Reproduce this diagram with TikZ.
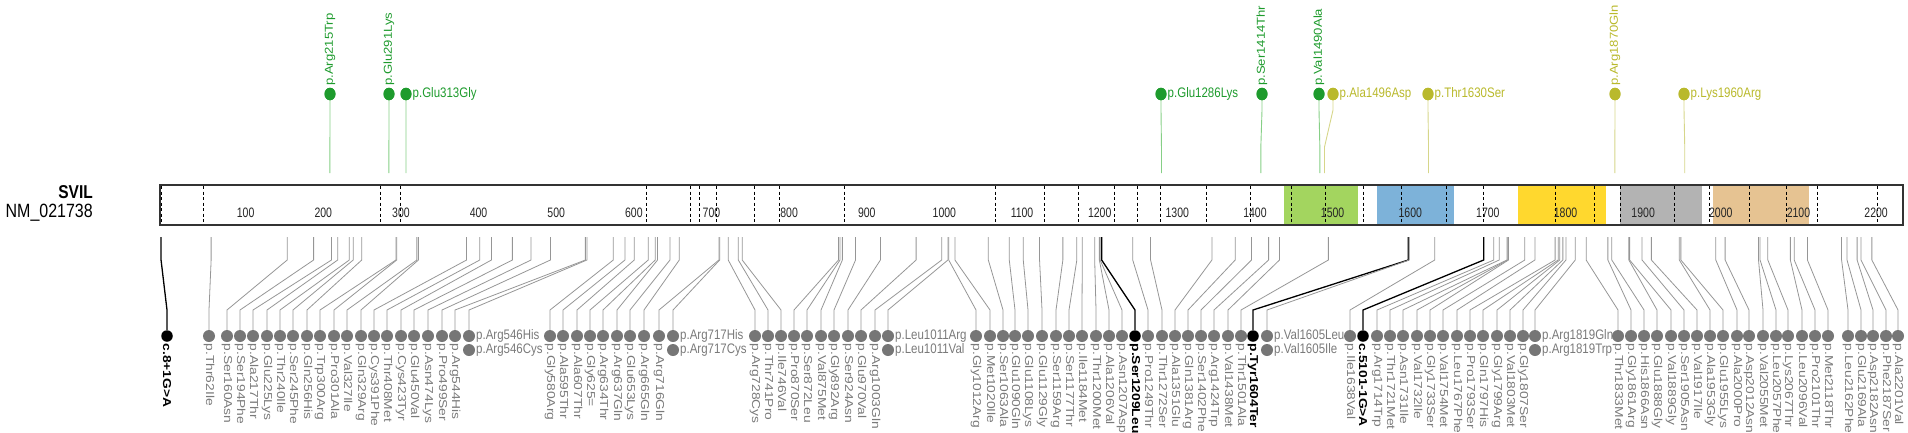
\documentclass[tikz,border=0pt]{standalone}
\usepackage{fontspec}
\setmainfont{Liberation Sans}
\definecolor{dotgray}{HTML}{767676}
\definecolor{labgray}{HTML}{7A7A7A}
\definecolor{linegray}{HTML}{969696}
\definecolor{grn}{HTML}{1E9B2D}
\definecolor{grnline}{HTML}{86CF86}
\definecolor{olv}{HTML}{B9B92C}
\definecolor{olvline}{HTML}{D6D68A}
\definecolor{dgreen}{HTML}{A3D55F}
\definecolor{dblue}{HTML}{7DB2D9}
\definecolor{dyellow}{HTML}{FFD82E}
\definecolor{dgrey}{HTML}{B3B3B3}
\definecolor{dtan}{HTML}{E6C392}
\newcommand\vtext[1]{\scalebox{1.2}[1]{#1}}
\newcommand\ttext[1]{\scalebox{1.14}[1]{#1}}
\newcommand\htext[1]{\scalebox{1}[1.2]{#1}}
\tikzset{
  dotg/.style={circle, fill=dotgray, minimum size=12pt, inner sep=0pt},
  dotk/.style={circle, fill=black, minimum size=11.5pt, inner sep=0pt},
  lineg/.style={draw=linegray, line width=0.8pt},
  linek/.style={draw=black, line width=1.3pt},
  labg/.style={font=\fontsize{11.5}{11.5}\selectfont, text=labgray, rotate=-90, anchor=west, inner sep=0pt},
  labk/.style={font=\fontsize{11.5}{11.5}\selectfont\bfseries, text=black, rotate=-90, anchor=west, inner sep=0pt},
  labh/.style={font=\fontsize{11.5}{11.5}\selectfont, text=labgray, anchor=west, inner sep=0pt},
  topv/.style={font=\fontsize{11.5}{11.5}\selectfont, rotate=90, anchor=west, inner sep=0pt},
  toph/.style={font=\fontsize{11.5}{11.5}\selectfont, anchor=west, inner sep=0pt},
  topdot/.style={ellipse, minimum width=11pt, minimum height=12.5pt, inner sep=0pt},
  exon/.style={draw=black, line width=0.9pt, dash pattern=on 3pt off 2.5pt},
  tick/.style={font=\fontsize{10.5}{10.5}\selectfont, text=black!85, inner sep=0pt},
}
\usetikzlibrary{shapes.geometric}
\begin{document}
\begin{tikzpicture}[x=1pt, y=-1pt]
\useasboundingbox (0,0) rectangle (1908,432);
% gene name
\node[anchor=east, font=\fontsize{15.5}{15.5}\selectfont\bfseries, inner sep=0pt] (gname) at (93,192) {\htext{SVIL}};
\node[anchor=east, font=\fontsize{16}{16}\selectfont, inner sep=0pt] (tname) at (93,213) {\htext{NM\_021738}};
% domains
\fill[dgreen]  (1284,186) rectangle (1358,224);
\fill[dblue]   (1377,186) rectangle (1454,224);
\fill[dyellow] (1518,186) rectangle (1606,224);
\fill[dgrey]   (1620,186) rectangle (1702,224);
\fill[dtan]    (1713,186) rectangle (1809,224);
% exon boundaries
\foreach \e in {161,203,380,400,646,690,699,716,754,779,844,995,1044,1078,1114,1137,1160,1206,1250,1291,1325,1363,1401,1446,1483,1555,1594,1620,1674,1709,1749,1786,1817,1877}
  \draw[exon] (\e,186) -- (\e,224);
% bar
\draw[black!80, line width=1.4pt] (160,185) rectangle (1903,225);
% tick labels
\foreach \n in {100,200,...,2200}
  \node[tick] (tk\n) at ({168+0.7764*\n},213) {\scalebox{1}[1.3]{\n}};
% top variants
\foreach \lab/\aa/\dx/\c/\o [count=\i] in {
  p.Arg215Trp/215/330/grn/v, p.Glu291Lys/291/389/grn/v, p.Glu313Gly/313/406/grn/h,
  p.Glu1286Lys/1286/1161/grn/h, p.Ser1414Thr/1414/1262/grn/v, p.Val1490Ala/1490/1319/grn/v,
  p.Ala1496Asp/1496/1333/olv/h, p.Thr1630Ser/1630/1428/olv/h, p.Arg1870Gln/1870/1615/olv/v,
  p.Lys1960Arg/1960/1684/olv/h}{
  \coordinate (ts\i) at ({163+0.7764*\aa},173);
  \coordinate (ta\i) at ({163+0.7764*\aa},147);
  \coordinate (tb\i) at (\dx,110);
  \node[topdot, fill=\c] (td\i) at (\dx,94) {};
  \draw[draw=\c line, line width=0.9pt] (ts\i) -- (ta\i) -- (tb\i) -- (td\i.center);
  \node[topdot, fill=\c] at (\dx,94) {};
  \if\o v
    \node[topv, text=\c] (tl\i) at (\dx,86) {\ttext{\lab}};
  \else
    \node[toph, text=\c] (tl\i) at (\dx+6.5,94) {\htext{\lab}};
  \fi
}
% bottom variants
\foreach \lab/\aa/\dx/\ty [count=\i] in {
  c.8+1G>A/-2.5/167/k, p.Thr62Ile/62/209/g, p.Ser160Asn/160/227/g, p.Ser194Phe/194/240/g,
  p.Ala217Thr/217/253/g, p.Glu225Lys/225/267/g, p.Thr240Ile/240/280/g, p.Ser245Phe/245/293/g,
  p.Gln256His/256/307/g, p.Trp300Arg/300/320/g, p.Pro301Ala/301/334/g, p.Val327Ile/327/347/g,
  p.Gln329Arg/329/361/g, p.Cys391Phe/391/374/g, p.Thr408Met/408/387/g, p.Cys423Tyr/423/401/g,
  p.Glu450Val/450/414/g, p.Asn474Lys/474/428/g, p.Pro499Ser/499/442/g, p.Arg544His/544/455/g,
  p.Gly580Arg/580/550/g, p.Ala595Thr/595/563/g, p.Ala607Thr/607/577/g, p.Gly625=/625/590/g,
  p.Arg634Thr/634/603/g, p.Arg637Gln/637/617/g, p.Glu653Lys/653/630/g, p.Arg665Gln/665/644/g,
  p.Arg716Gln/716/659/g, p.Arg728Cys/728/755/g, p.Thr741Pro/741/768/g, p.Ile746Val/746/781/g,
  p.Pro870Ser/870/794/g, p.Ser872Leu/872/807/g, p.Val875Met/875/821/g, p.Gly892Arg/892/834/g,
  p.Ser924Asn/924/848/g, p.Glu970Val/970/861/g, p.Arg1003Gln/1003/875/g,
  p.Gly1012Arg/1012/976/g, p.Met1020Ile/1020/990/g, p.Ser1063Ala/1063/1003/g,
  p.Glu1090Gln/1090/1015/g, p.Glu1108Lys/1108/1028/g, p.Glu1129Gly/1129/1042/g,
  p.Ser1159Arg/1159/1056/g, p.Ser1177Thr/1177/1069/g, p.Ile1184Met/1184/1082/g,
  p.Thr1200Met/1200/1096/g, p.Ala1206Val/1206/1109/g, p.Asn1207Asp/1207/1122/g,
  p.Ser1209Leu/1209/1135/k, p.Pro1249Thr/1249/1148/g, p.Thr1272Ser/1272/1162/g,
  p.Ala1351Glu/1351/1175/g, p.Gln1381Arg/1381/1188/g, p.Ser1402Phe/1402/1201/g,
  p.Arg1424Trp/1424/1214/g, p.Val1438Met/1438/1228/g, p.Thr1501Ala/1501/1241/g,
  p.Tyr1604Ter/1604/1253/k, p.Ile1638Val/1638/1350/g, c.5101-1G>A/1701/1363/k,
  p.Arg1714Trp/1714/1377/g, p.Thr1721Met/1721/1390/g, p.Asn1731Ile/1731/1403/g,
  p.Val1732Ile/1732/1417/g, p.Gly1733Ser/1733/1430/g, p.Val1754Met/1754/1443/g,
  p.Leu1767Phe/1767/1457/g, p.Pro1793Ser/1793/1470/g, p.Gln1797His/1797/1483/g,
  p.Gly1799Arg/1799/1497/g, p.Val1803Met/1803/1510/g, p.Gly1807Ser/1807/1523/g,
  p.Thr1833Met/1833/1618/g, p.Gly1861Arg/1861/1631/g, p.His1866Asn/1866/1644/g,
  p.Glu1888Gly/1888/1657/g, p.Val1889Gly/1889/1671/g, p.Ser1905Asn/1905/1684/g,
  p.Val1917Ile/1917/1697/g, p.Ala1953Gly/1953/1710/g, p.Glu1955Lys/1955/1723/g,
  p.Ala2000Pro/2000/1737/g, p.Asp2012Asn/2012/1749/g, p.Val2055Met/2055/1763/g,
  p.Leu2057Phe/2057/1776/g, p.Lys2067Thr/2067/1788/g, p.Leu2096Val/2096/1802/g,
  p.Pro2101Thr/2101/1815/g, p.Met2118Thr/2118/1828/g, p.Leu2162Phe/2162/1848/g,
  p.Glu2169Ala/2169/1861/g, p.Asp2182Asn/2182/1873/g, p.Phe2187Ser/2187/1886/g,
  p.Ala2201Val/2201/1898/g}{
  \coordinate (bs\i) at ({163+0.7764*\aa},237);
  \coordinate (ba\i) at ({163+0.7764*\aa},260);
  \coordinate (bb\i) at (\dx,310);
  \node[dot\ty] (bd\i) at (\dx,336) {};
  \draw[line\ty] (bs\i) -- (ba\i) -- (bb\i) -- (bd\i);
  \node[lab\ty] (bl\i) at (\dx,343.5) {\vtext{\lab}};
}
% paired variants with horizontal labels
\foreach \la/\lb/\aa/\dx [count=\i] in {
  p.Arg546His/p.Arg546Cys/546/469, p.Arg717His/p.Arg717Cys/717/673,
  p.Leu1011Arg/p.Leu1011Val/1011/888, p.Val1605Leu/p.Val1605Ile/1605/1267,
  p.Arg1819Gln/p.Arg1819Trp/1819/1535}{
  \coordinate (ps\i) at ({163+0.7764*\aa},237);
  \coordinate (pa\i) at ({163+0.7764*\aa},260);
  \coordinate (pb\i) at (\dx,310);
  \node[dotg] (pd\i) at (\dx,336) {};
  \node[dotg] (pe\i) at (\dx,350) {};
  \draw[lineg] (ps\i) -- (pa\i) -- (pb\i) -- (pd\i);
  \node[labh] (pl\i) at (\dx+7,336) {\htext{\la}};
  \node[labh] (pm\i) at (\dx+7,350) {\htext{\lb}};
}
\end{tikzpicture}
\end{document}
